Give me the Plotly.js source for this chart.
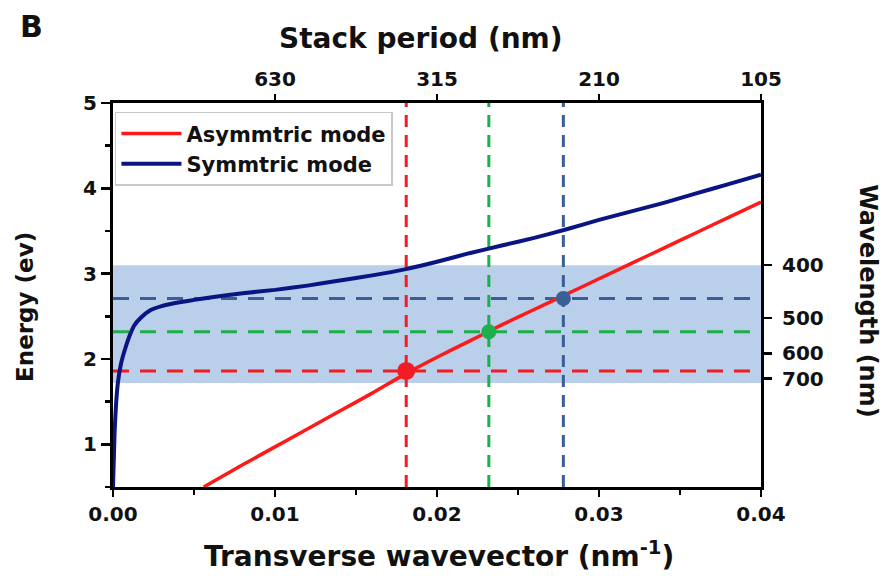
<!DOCTYPE html>
<html>
<head>
<meta charset="utf-8">
<script src="https://cdn.plot.ly/plotly-3.0.1.min.js"></script>
<style>
  html, body { margin: 0; padding: 0; background: #ffffff; }
  #chart { width: 892px; height: 576px; }
</style>
</head>
<body>
<div id="chart"></div>
<script>
// Asymmetric mode dispersion: energy (eV) vs transverse wavevector (nm^-1)
const kAsym = [0.0056, 0.008, 0.010, 0.012, 0.014, 0.016, 0.018, 0.020, 0.022, 0.024,
               0.026, 0.028, 0.030, 0.032, 0.034, 0.036, 0.038, 0.040];
const eAsym = [0.50, 0.76, 0.97, 1.18, 1.39, 1.60, 1.82, 2.02, 2.21, 2.40,
               2.58, 2.76, 2.94, 3.12, 3.30, 3.48, 3.66, 3.84];

// Symmetric mode dispersion
const kSym = [0, 0.0001, 0.0002, 0.0003, 0.0005, 0.00075, 0.001, 0.0013, 0.0017, 0.0023,
              0.003, 0.0043, 0.006, 0.008, 0.010, 0.012, 0.014, 0.016, 0.018, 0.020,
              0.022, 0.024, 0.026, 0.028, 0.030, 0.032, 0.034, 0.036, 0.038, 0.040];
const eSym = [0.50, 1.15, 1.50, 1.72, 1.95, 2.12, 2.26, 2.39, 2.48, 2.57,
              2.62, 2.67, 2.72, 2.77, 2.81, 2.86, 2.92, 2.98, 3.05, 3.14,
              3.24, 3.33, 3.42, 3.52, 3.63, 3.73, 3.83, 3.94, 4.05, 4.16];

// Crossing points of the asymmetric mode with the selected photon energies
const crossK = [0.0181, 0.0232, 0.0278];
const crossE = [1.86, 2.32, 2.71];

// Visible band (eV) and axis definitions
const bandE = [1.72, 3.10];
const xRange = [0, 0.04];
const yRange = [0.5, 5];
const kTicks = [0, 0.01, 0.02, 0.03, 0.04];
const periodTickK = [0.01, 0.02, 0.03, 0.04];
const periodLabels = ['630', '315', '210', '105'];
const wavelengthTicks = [400, 500, 600, 700];
const energyTicks = [1, 2, 3, 4, 5];

// styling
const markColors = ['#f31b24', '#1cb04c', '#3a5f98'];
const markSizes = [18, 15, 15];
const FONT = 'DejaVu Sans, Liberation Sans, Arial, sans-serif';
const tickFont = { family: FONT, size: 20, color: '#111', weight: 700 };

const traces = [];

// vertical guide lines through each crossing
crossK.forEach((k, i) => {
  traces.push({
    x: [k, k], y: yRange, mode: 'lines', showlegend: false, hoverinfo: 'skip',
    line: { color: markColors[i], width: 3, dash: '12px,8px' }
  });
});
// horizontal guide lines at each crossing energy
crossE.forEach((e, i) => {
  traces.push({
    x: xRange, y: [e, e], mode: 'lines', showlegend: false, hoverinfo: 'skip',
    line: { color: markColors[i], width: 3, dash: '16px,11px' }
  });
});

traces.push({
  x: kAsym, y: eAsym, mode: 'lines', name: 'Asymmtric mode',
  line: { color: '#ff1a1a', width: 3.5, shape: 'spline', smoothing: 0.6 }
});
traces.push({
  x: kSym, y: eSym, mode: 'lines', name: 'Symmtric mode',
  line: { color: '#0a1482', width: 4, shape: 'spline', smoothing: 0.6 }
});

// crossing markers on the overlay axes (same scale), drawn on top
traces.push({
  x: crossK, y: crossE, mode: 'markers', showlegend: false, hoverinfo: 'skip',
  xaxis: 'x2', yaxis: 'y2',
  marker: { color: markColors, size: markSizes, opacity: 1, line: { width: 0 } }
});

const axisCommon = {
  showline: true, linecolor: '#000', linewidth: 3, mirror: false,
  showgrid: false, zeroline: false,
  ticks: 'outside', tickcolor: '#000', tickwidth: 2.5,
  tickfont: tickFont
};

const ann = (text, x, y, size, angle) => ({
  text: text, xref: 'paper', yref: 'paper', x: x, y: y,
  xanchor: 'center', yanchor: 'middle', showarrow: false, textangle: angle || 0,
  font: { family: FONT, size: size, color: '#111', weight: 700 }
});

const layout = {
  width: 892, height: 576,
  margin: { l: 113, r: 131, t: 103, b: 89, pad: 0 },
  paper_bgcolor: '#ffffff', plot_bgcolor: '#ffffff',
  showlegend: true,
  legend: {
    x: 0.003, y: 0.977, xanchor: 'left', yanchor: 'top',
    bgcolor: '#ffffff', bordercolor: '#c8c8c8', borderwidth: 1.5,
    font: { family: FONT, size: 21, color: '#111', weight: 700 },
    itemwidth: 60, tracegroupgap: 0
  },
  xaxis: Object.assign({}, axisCommon, {
    range: xRange, tickmode: 'array', tickvals: kTicks,
    ticktext: kTicks.map(v => v.toFixed(2)), ticklen: 7,
    minor: { dtick: 0.005, ticks: 'outside', ticklen: 5, tickwidth: 2.5, tickcolor: '#000', showgrid: false }
  }),
  yaxis: Object.assign({}, axisCommon, {
    range: yRange, tickmode: 'array', tickvals: energyTicks, ticklen: 9,
    minor: { dtick: 0.5, tick0: 0, ticks: 'outside', ticklen: 5, tickwidth: 2.5, tickcolor: '#000', showgrid: false }
  }),
  xaxis2: Object.assign({}, axisCommon, {
    overlaying: 'x', side: 'top', anchor: 'y', range: xRange,
    tickmode: 'array', tickvals: periodTickK, ticktext: periodLabels, ticklen: 6
  }),
  yaxis2: Object.assign({}, axisCommon, {
    overlaying: 'y', side: 'right', anchor: 'x', range: yRange,
    tickmode: 'array', tickvals: wavelengthTicks.map(l => 1240 / l),
    ticktext: wavelengthTicks.map(String), ticklen: 8, ticklabelstandoff: 6
  }),
  shapes: [{
    type: 'rect', layer: 'below', xref: 'paper', yref: 'y',
    x0: 0, x1: 1, y0: bandE[0], y1: bandE[1],
    fillcolor: '#b9cfea', line: { width: 0 }
  }],
  annotations: [
    ann('B', -0.1265, 1.198, 30),
    ann('Stack period (nm)', 0.475, 1.169, 28),
    ann('Transverse wavevector (nm<sup>-1</sup>)', 0.503, -0.177, 28),
    ann('Energy (ev)', -0.1358, 0.469, 23, -90),
    ann('Wavelength (nm)', 1.165, 0.484, 24, 90)
  ]
};

Plotly.newPlot('chart', traces, layout, { staticPlot: true, displayModeBar: false });
</script>
</body>
</html>
